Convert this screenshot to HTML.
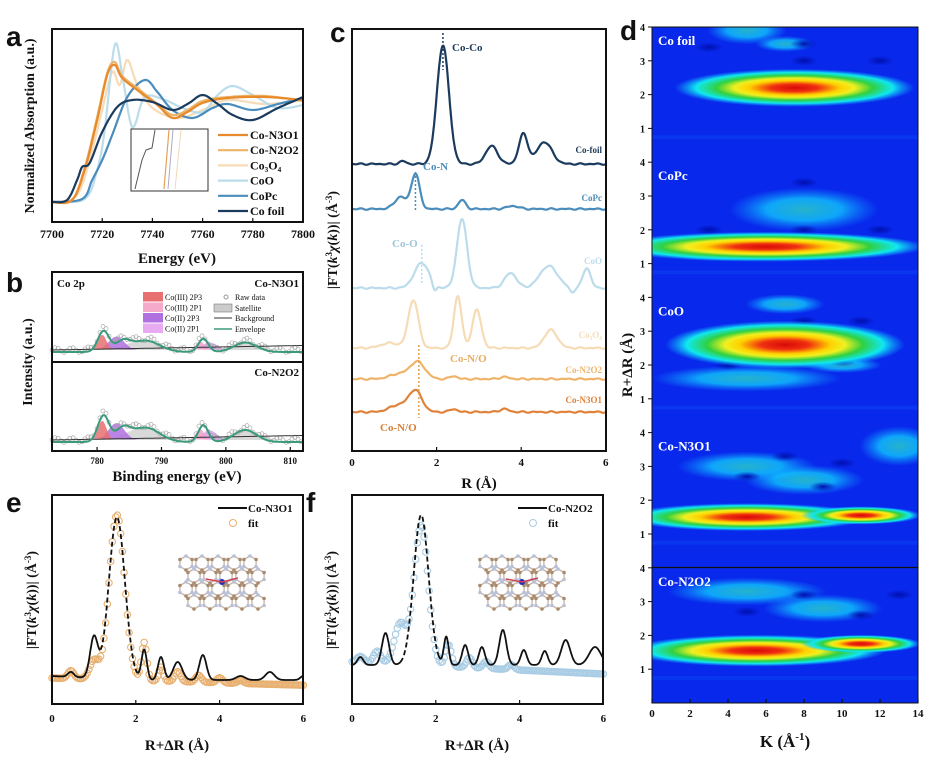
<!DOCTYPE html>
<html><head><meta charset="utf-8"><style>
body{margin:0;background:#fff}
svg{display:block;font-family:"Liberation Serif",serif}
</style></head><body>
<svg id="s" width="930" height="768" viewBox="0 0 930 768" xmlns="http://www.w3.org/2000/svg">
<defs>
<radialGradient id="jet">
<stop offset="0" stop-color="#d80808"/><stop offset="0.2" stop-color="#f03010"/>
<stop offset="0.38" stop-color="#ffd000"/><stop offset="0.5" stop-color="#f0f020"/>
<stop offset="0.65" stop-color="#30d040"/><stop offset="0.82" stop-color="#10e8f0"/>
<stop offset="1" stop-color="#10b0ff" stop-opacity="0"/></radialGradient>
<radialGradient id="cy">
<stop offset="0" stop-color="#30e0c0"/><stop offset="0.5" stop-color="#10d0ff"/>
<stop offset="1" stop-color="#10a0ff" stop-opacity="0"/></radialGradient>
<radialGradient id="dk">
<stop offset="0" stop-color="#0010b0"/><stop offset="1" stop-color="#0010b0" stop-opacity="0"/></radialGradient>
<clipPath id="dclip"><rect x="652" y="27" width="266" height="676"/></clipPath>
</defs>
<g id="g"></g>
</svg>
<script>
const g=document.getElementById('g');
function el(t,a,txt){const e=document.createElementNS('http://www.w3.org/2000/svg',t);for(const k in a)e.setAttribute(k,a[k]);if(txt!==undefined)e.textContent=txt;g.appendChild(e);return e;}
function txt(x,y,s,o){o=o||{};return el('text',Object.assign({x:x,y:y,'font-size':12,'font-weight':'bold','text-anchor':'start',fill:'#111'},o),s);}
function poly(pts,st,w,extra){let d='M'+pts.map(p=>p[0].toFixed(1)+','+p[1].toFixed(1)).join(' L');return el('path',Object.assign({d:d,fill:'none',stroke:st,'stroke-width':w,'stroke-linejoin':'round'},extra||{}));}
function smooth(pts){let out=[];for(let i=0;i<pts.length-1;i++){const p0=pts[Math.max(i-1,0)],p1=pts[i],p2=pts[i+1],p3=pts[Math.min(i+2,pts.length-1)];
 for(let t=0;t<1;t+=0.1){const t2=t*t,t3=t2*t;const f=(a,b,c,d)=>0.5*((2*b)+(-a+c)*t+(2*a-5*b+4*c-d)*t2+(-a+3*b-3*c+d)*t3);out.push([f(p0[0],p1[0],p2[0],p3[0]),f(p0[1],p1[1],p2[1],p3[1])]);}}
 out.push(pts[pts.length-1]);return out;}
function gsum(x0,x1,base,peaks){let p=[];for(let x=x0;x<=x1;x+=1){let y=base;for(const k of peaks)y-=k[1]*Math.exp(-Math.pow((x-k[0])/k[2],2));p.push([x,y]);}return p;}
function box(x,y,w,h){el('rect',{x:x,y:y,width:w,height:h,fill:'none',stroke:'#111','stroke-width':2});}
function xt(x,y){el('line',{x1:x,y1:y,x2:x,y2:y-4,stroke:'#111','stroke-width':1.2});}
function L(x,y,s){txt(x,y,s,{'font-family':'Liberation Sans,sans-serif','font-size':28});}
const FT='|FT(<tspan font-style="italic">k</tspan><tspan font-size="9" dy="-5">3</tspan><tspan dy="5" font-style="italic">χ</tspan>(<tspan font-style="italic">k</tspan>))| (Å<tspan font-size="9" dy="-5">-3</tspan><tspan dy="5">)</tspan>';

// ===== Panel a =====
L(6,46,'a');
const ax=e=>52+(e-7700)*2.51;
const A={
 foil:[[7700,202],[7706,200],[7710,180],[7712,167],[7715,163],[7720,132],[7726,107],[7732,100],[7740,102],[7748,110],[7754,104],[7760,95],[7766,104],[7772,115],[7780,120],[7790,108],[7800,97]],
 pc:[[7700,202],[7712,199],[7716,180],[7720,160],[7724,135],[7730,97],[7737,80],[7742,92],[7748,110],[7756,118],[7764,108],[7770,104],[7780,110],[7790,104],[7800,98]],
 coo:[[7700,202],[7713,199],[7718,170],[7721,130],[7725,45],[7728,75],[7731,120],[7733,125],[7737,97],[7745,100],[7752,108],[7760,112],[7766,95],[7772,86],[7780,95],[7790,108],[7800,105]],
 c3:[[7700,202],[7710,195],[7716,150],[7720,110],[7724,72],[7727,85],[7730,60],[7734,85],[7740,108],[7750,118],[7760,110],[7770,100],[7785,104],[7800,100]],
 n3:[[7700,202],[7708,200],[7713,170],[7718,120],[7722,75],[7725,65],[7728,78],[7735,92],[7742,105],[7748,118],[7754,112],[7760,103],[7770,98],[7785,97],[7800,100]],
 n2:[[7700,202],[7708,200],[7713,168],[7718,117],[7722,73],[7725,62],[7728,76],[7735,90],[7742,104],[7748,115],[7754,110],[7760,101],[7770,97],[7785,96],[7800,101]]};
const cols={foil:'#1b3b5e',pc:'#4a8cbc',coo:'#bcdcec',c3:'#f6dcb6',n3:'#e88a2c',n2:'#ebb468'};
for(const k of ['c3','coo','pc','n2','n3','foil']){poly(smooth(A[k].map(p=>[ax(p[0]),p[1]])),cols[k],2.2);}
box(52,29,251,193);
for(let e=7700;e<=7800;e+=20){xt(ax(e),222);txt(ax(e),238,String(e),{'text-anchor':'middle','font-size':12});}
txt(177,263,'Energy (eV)',{'text-anchor':'middle','font-size':15});
txt(0,0,'Normalized Absorption (a.u.)',{transform:'translate(34,126) rotate(-90)','text-anchor':'middle','font-size':14});
el('rect',{x:131,y:129,width:77,height:62,fill:'#fff',stroke:'#333','stroke-width':1});
poly([[135,189],[142,160],[146,150],[152,148],[155,130]],'#555',1);
poly([[164,189],[169,130]],'#e8a050',1.2);poly([[168,189],[173,130]],'#aac',1);poly([[175,189],[181,130]],'#f0d8b8',1);
const leg=[['n3','Co-N3O1'],['n2','Co-N2O2'],['c3','Co₃O₄'],['coo','CoO'],['pc','CoPc'],['foil','Co foil']];
leg.forEach((l,i)=>{const y=135+i*15.2;el('line',{x1:218,y1:y,x2:248,y2:y,stroke:cols[l[0]],'stroke-width':2.2});txt(250,y+4,l[1],{'font-size':12});});

// ===== Panel b =====
L(6,292,'b');
const bx=e=>52+(e-773)*6.44;
function xps(y0,sc){
 const base=gsum(52,303,y0,[]).map(p=>[p[0],y0-(p[0]-52)*0.018]);
 const sat=gsum(80,303,y0,[[bx(787),10*sc,22],[bx(803),8*sc,18]]);
 el('path',{d:'M'+sat.map(p=>p[0]+','+p[1]).join(' L')+' Z',fill:'#cfcfcf',opacity:.8});
 const f=(c,pk,w,cl)=>{const p=gsum(bx(c)-w*1.6,bx(c)+w*2,y0,[[bx(c),pk*sc,w]]);el('path',{d:'M'+p.map(q=>q[0]+','+q[1]).join(' L')+' Z',fill:cl,opacity:.85});};
 f(783,14,11,'#b070e0');f(780.8,16,6,'#e87070');f(797.5,8,10,'#d8a0f0');f(796,9,6,'#f0a0c8');
 const env=gsum(52,303,y0+2,[[bx(781),22*sc,8],[bx(784),10*sc,10],[bx(787.5),12*sc,20],[bx(796.5),14*sc,7],[bx(803),10*sc,16]]);
 for(let i=0;i<env.length;i+=3)el('circle',{cx:env[i][0],cy:env[i][1]-2+Math.sin(i*1.7)*2.5,r:2,fill:'none',stroke:'#aaa','stroke-width':.7});
 poly(base,'#333',1);
 poly(env,'#3a9a7c',2);
}
xps(350,0.95);xps(440,1.2);
box(52,272,251,179);el('line',{x1:52,y1:362,x2:303,y2:362,stroke:'#111','stroke-width':2});
txt(57,287,'Co 2p',{'font-size':11});txt(299,287,'Co-N3O1',{'font-size':11,'text-anchor':'end'});txt(299,376,'Co-N2O2',{'font-size':11,'text-anchor':'end'});
[['#e87070','Co(III) 2P3'],['#f5aacc','Co(III) 2P1'],['#b070e0','Co(II) 2P3'],['#e8aaf0','Co(II) 2P1']].forEach((l,i)=>{el('rect',{x:143,y:292+i*10.5,width:20,height:9.5,fill:l[0]});txt(165,300+i*10.5,l[1],{'font-size':8,'font-weight':'normal'});});
el('circle',{cx:226,cy:297,r:2,fill:'none',stroke:'#999'});txt(235,300,'Raw data',{'font-size':8,'font-weight':'normal'});
el('rect',{x:214,y:304,width:18,height:8,fill:'#ccc',stroke:'#666','stroke-width':.5});txt(235,311,'Satellite',{'font-size':8,'font-weight':'normal'});
el('line',{x1:214,y1:318,x2:232,y2:318,stroke:'#333'});txt(235,321,'Background',{'font-size':8,'font-weight':'normal'});
el('line',{x1:214,y1:329,x2:232,y2:329,stroke:'#3a9a7c','stroke-width':1.5});txt(235,332,'Envelope',{'font-size':8,'font-weight':'normal'});
for(let e=780;e<=810;e+=10){xt(bx(e),451);txt(bx(e),464,String(e),{'text-anchor':'middle','font-size':9});}
txt(177,481,'Binding energy (eV)',{'text-anchor':'middle','font-size':15});
txt(0,0,'Intensity (a.u.)',{transform:'translate(32,362) rotate(-90)','text-anchor':'middle','font-size':14});

// ===== Panel c =====
L(330,42,'c');
const cx=r=>352+r*42.3;
const C=[
 ['#1b3b5e',164,[[2.15,119,0.2],[3.3,18,0.2],[4.05,30,0.15],[4.55,22,0.25],[1.2,3,0.1]],'Co-foil',153],
 ['#4a8cbc',209,[[1.5,35,0.14],[1.15,12,0.2],[2.6,9,0.12],[3.8,3,0.2]],'CoPc',201],
 ['#bcdcec',288,[[1.65,25,0.25],[1.95,-8,0.07],[2.6,69,0.17],[3.75,15,0.2],[4.65,22,0.3],[5.55,20,0.13],[5.2,-5,0.08]],'CoO',264],
 ['#f6dcb6',348,[[1.45,48,0.17],[2.5,52,0.13],[2.95,38,0.15],[4.7,18,0.22],[0.9,5,0.3]],'Co₃O₄',338],
 ['#efb46a',379,[[1.55,17,0.25],[1.1,5,0.3],[2.4,3,0.12],[3.6,2,0.15]],'Co-N2O2',373],
 ['#e0823a',412,[[1.5,21,0.22],[1.1,7,0.3],[2.4,3,0.12],[3.6,3,0.15]],'Co-N3O1',403]];
C.forEach(c=>{const p=[];for(let r=0;r<=6.001;r+=0.02){let y=c[1];for(const k of c[2])y-=k[1]*Math.exp(-Math.pow((r-k[0])/k[2],2));y+=0.8*Math.sin(r*23)*Math.sin(r*5);p.push([cx(r),y]);}poly(p,c[0],2.2);txt(602,c[4],c[3],{'text-anchor':'end','font-size':9,fill:c[0]});});
el('line',{x1:cx(2.15),y1:33,x2:cx(2.15),y2:70,stroke:'#1b3b5e','stroke-dasharray':'2,2','stroke-width':1.5});txt(452,51,'Co-Co',{'font-size':11,fill:'#1b3b5e'});
el('line',{x1:cx(1.5),y1:172,x2:cx(1.5),y2:210,stroke:'#4a8cbc','stroke-dasharray':'2,2','stroke-width':1.5});txt(423,170,'Co-N',{'font-size':11,fill:'#4a8cbc'});
el('line',{x1:cx(1.65),y1:245,x2:cx(1.65),y2:285,stroke:'#bcdcec','stroke-dasharray':'2,2','stroke-width':1.5});txt(392,247,'Co-O',{'font-size':11,fill:'#9cc4dc'});
el('line',{x1:cx(1.58),y1:345,x2:cx(1.58),y2:418,stroke:'#e0a050','stroke-dasharray':'2,2','stroke-width':1.5});txt(450,362,'Co-N/O',{'font-size':11,fill:'#eaac62'});txt(380,431,'Co-N/O',{'font-size':11,fill:'#d88038'});
box(352,29,254,422);
for(let r=0;r<=6;r+=2){xt(cx(r),451);txt(cx(r),466,String(r),{'text-anchor':'middle','font-size':11});}
txt(479,488,'R (Å)',{'text-anchor':'middle','font-size':15});
el('text',{transform:'translate(337,240) rotate(-90)','text-anchor':'middle','font-size':14,'font-weight':'bold',fill:'#111'}).innerHTML=FT;

// ===== Panels e & f =====
function curve(x0,base,pk,step){const X=r=>x0+r*41.9;const p=[];for(let r=0;r<=6.001;r+=step){let y=base(r);for(const k of pk)y-=k[1]*Math.exp(-Math.pow((r-k[0])/k[2],2));p.push([X(r),y]);}return p;}
function efdraw(x0,lab,title,fitc,lineP,fitP,lb,fb){
 L(x0-46,512,lab);
 const f=curve(x0,fb,fitP,0.04);f.forEach(p=>el('circle',{cx:p[0],cy:p[1],r:3.2,fill:'none',stroke:fitc,'stroke-width':1.1}));
 const l=curve(x0,lb,lineP,0.01);
 poly(l.slice(0,116),'#111',1.8);poly(l.slice(205),'#111',1.8);poly(l.slice(115,206),'#111',1.8,{'stroke-dasharray':'5,3'});
 box(x0,495,251,209);
 const X=r=>x0+r*41.9;
 for(let r=0;r<=6;r+=2){xt(X(r),704);txt(X(r),722,String(r),{'text-anchor':'middle','font-size':11});}
 txt(x0+125,750,'R+ΔR (Å)',{'text-anchor':'middle','font-size':15});
 el('line',{x1:x0+166,y1:508,x2:x0+195,y2:508,stroke:'#111','stroke-width':2});txt(x0+196,512,title,{'font-size':11});
 el('circle',{cx:x0+181,cy:523,r:3.5,fill:'none',stroke:fitc});txt(x0+196,527,'fit',{'font-size':11});
 const mx=x0+150,my=585;
 for(let i=0;i<5;i++)for(let j=0;j<4;j++){const cxx=mx+i*16+(j%2)*8-16,cyy=my+j*13-22;
  const hp=[];for(let a=0;a<6;a++)hp.push([cxx+7*Math.cos(a*Math.PI/3+Math.PI/6),cyy+7*Math.sin(a*Math.PI/3+Math.PI/6)]);hp.push(hp[0]);
  poly(hp,'#c8b4a4',1.3);hp.slice(0,6).forEach((p,k)=>el('circle',{cx:p[0],cy:p[1],r:1.8,fill:k%2?'#a88a70':'#b8c0d8'}));}
 el('circle',{cx:mx+20,cy:my-3,r:3,fill:'#2030c0'});poly([[mx+4,my-6],[mx+20,my-3],[mx+36,my-7]],'#d04050',1.5);
 el('text',{transform:'translate('+(x0-16)+',600) rotate(-90)','text-anchor':'middle','font-size':14,'font-weight':'bold',fill:'#111'}).innerHTML=FT;
}
efdraw(52,'e','Co-N3O1','#e8b070',
 [[0.45,5,0.1],[1.0,40,0.13],[1.55,162,0.27],[2.2,30,0.09],[2.6,23,0.1],[3.0,18,0.15],[3.6,25,0.12],[4.5,4,0.15],[5.2,8,0.15],[6,4,0.1]],
 [[0.45,8,0.1],[1.0,18,0.15],[1.55,165,0.26],[2.2,38,0.09],[2.6,14,0.08],[3.0,10,0.1],[3.5,7,0.1],[4.0,5,0.1],[4.5,3,0.1]],
 r=>676+Math.min(r,2)*2,r=>678+Math.min(r,6)*1.2);
efdraw(352,'f','Co-N2O2','#a8cce4',
 [[0.2,8,0.1],[0.8,32,0.12],[1.65,150,0.25],[2.25,28,0.08],[2.7,20,0.1],[3.1,18,0.1],[3.6,35,0.12],[4.1,15,0.1],[4.6,14,0.1],[5.1,25,0.15],[5.8,18,0.2]],
 [[0.2,6,0.12],[0.6,12,0.12],[1.15,40,0.2],[1.65,140,0.24],[2.3,22,0.1],[2.8,10,0.1],[3.2,7,0.1],[3.8,5,0.1]],
 r=>665,r=>662+Math.min(r,6)*2);

// ===== Panel d =====
(function(){
 L(620,40,'d');
 const K=k=>652+k*19;
 const dg=el('g',{'clip-path':'url(#dclip)'});
 const add=(t,a)=>{const e=document.createElementNS('http://www.w3.org/2000/svg',t);for(const k in a)e.setAttribute(k,a[k]);dg.appendChild(e);return e;};
 add('rect',{x:652,y:27,width:266,height:676,fill:'#0828ec'});
 const R=(i,r)=>27+i*135.2+(4-r)*33.8;
 const subs=[
  {n:'Co foil',m:[[7.5,2.2,120,19]],c:[[5,3.9,40,14],[7,3.5,30,8]],dk:[[3,3.4],[8,3.0],[12,3.0],[8,3.5]]},
  {n:'CoPc',m:[[6,1.5,160,15]],c:[[8,2.6,75,22],[4,1.25,60,6]],dk:[[8,3.4],[8,2.0],[3,2.0],[12,2.0]]},
  {n:'CoO',m:[[7,2.6,120,24]],c:[[5,1.6,95,13],[7,3.8,40,10],[10,2.0,40,8]],dk:[[8,3.3],[11,3.3],[4,2.0],[10,2.1]]},
  {n:'Co-N3O1',m:[[5,1.5,125,14],[11,1.55,60,9]],c:[[13,3.6,40,20],[5,3,70,15],[8,2.6,60,15]],dk:[[5,2.7],[10,3.1],[7,3.3],[9,2.4]]},
  {n:'Co-N2O2',m:[[5.5,1.55,130,16],[11,1.75,60,9]],c:[[5,3.3,80,14],[9,2.8,60,14]],dk:[[5,2.7],[8,3.2],[11,2.6],[13,3.2]]}];
 subs.forEach((s,i)=>{
  s.c.forEach(c=>add('ellipse',{cx:K(c[0]),cy:R(i,c[1]),rx:c[2],ry:c[3],fill:'url(#cy)',opacity:.75}));
  s.dk.forEach(c=>add('ellipse',{cx:K(c[0]),cy:R(i,c[1]),rx:14,ry:5,fill:'url(#dk)'}));
  s.m.forEach(c=>add('ellipse',{cx:K(c[0]),cy:R(i,c[1]),rx:c[2],ry:c[3],fill:'url(#jet)'}));
  add('rect',{x:652,y:R(i,0.75),width:266,height:33.8*0.75,fill:'#0828ec'});
  add('rect',{x:652,y:R(i,0.8),width:266,height:4,fill:'#0a40f0',opacity:.6});
  add('text',{x:658,y:R(i,4)+18,'font-size':13,'font-weight':'bold',fill:'#fff'}).textContent=s.n;
  for(let r=1;r<=4;r++){el('line',{x1:648,y1:R(i,r),x2:652,y2:R(i,r),stroke:'#111'});txt(645,R(i,r)+4,String(r),{'text-anchor':'end','font-size':10});}
 });
 el('line',{x1:652,y1:567.5,x2:918,y2:567.5,stroke:'#111','stroke-width':1.2});
 el('rect',{x:652,y:27,width:266,height:676,fill:'none',stroke:'#111','stroke-width':1});
 for(let k=0;k<=14;k+=2){xt(K(k),703);txt(K(k),717,String(k),{'text-anchor':'middle','font-size':11});}
 el('text',{x:785,y:747,'text-anchor':'middle','font-size':17,'font-weight':'bold',fill:'#111'}).innerHTML='K (Å<tspan font-size="11" dy="-7">-1</tspan><tspan dy="7">)</tspan>';
 txt(0,0,'R+ΔR (Å)',{transform:'translate(632,365) rotate(-90)','text-anchor':'middle','font-size':15});
})();
</script>
</body></html>
